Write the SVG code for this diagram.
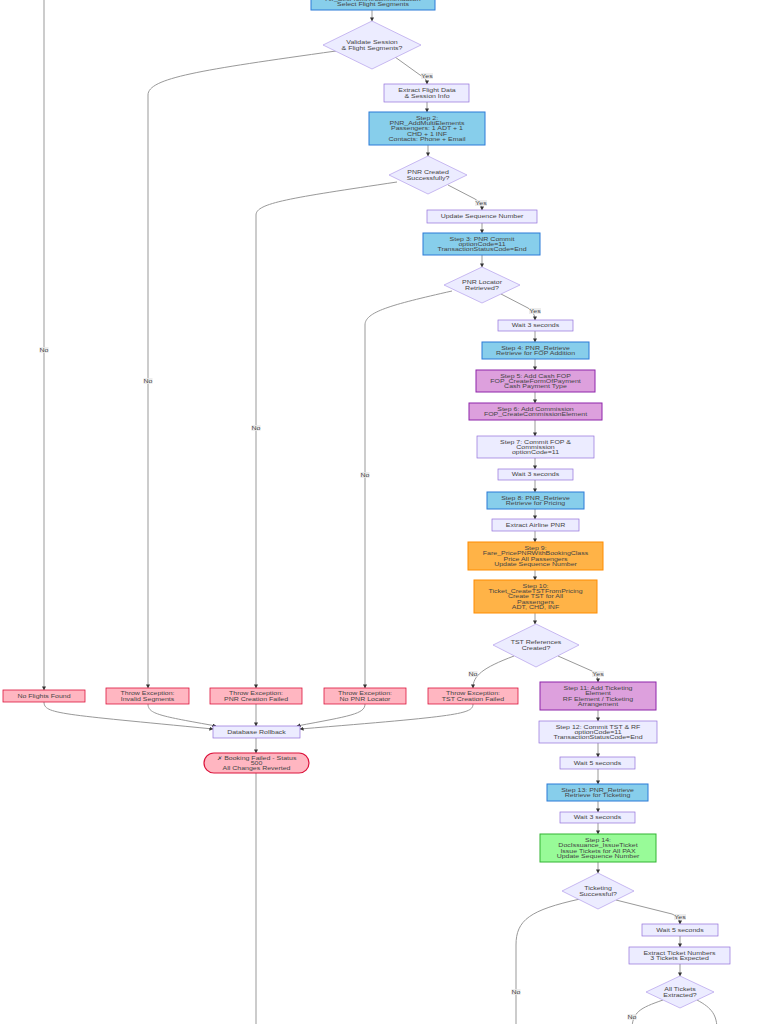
<svg xmlns="http://www.w3.org/2000/svg" width="768" height="1024" viewBox="0 0 768 1024">
<defs>
<marker id="arr" viewBox="0 0 10 10" refX="9" refY="5" markerWidth="4" markerHeight="4" orient="auto-start-reverse" markerUnits="userSpaceOnUse"><path d="M0,0 L10,5 L0,10 z" fill="#333"/></marker>
<style>
.t{font-family:"Liberation Sans",Arial,sans-serif;font-size:7px;fill:#444;text-anchor:middle}
.e{fill:none;stroke:#999;stroke-width:1;marker-end:url(#arr)}
.eb{fill:none;stroke:#999;stroke-width:1}
.blue{fill:#87CEEB;stroke:#2B7BD8;stroke-width:1}
.lav{fill:#ECECFF;stroke:#9370DB;stroke-width:0.7}
.dia{fill:#ECECFF;stroke:#B39DEB;stroke-width:0.7}
.orc{fill:#DDA0DD;stroke:#8E24AA;stroke-width:1}
.org{fill:#FFB347;stroke:#FF8C00;stroke-width:1}
.pnk{fill:#FFB6C1;stroke:#DC143C;stroke-width:0.8}
.grn{fill:#98FB98;stroke:#32B432;stroke-width:1}
.lb{fill:#e8e8e8;opacity:0.8}
</style>
</defs>
<rect width="768" height="1024" fill="#fff"/>
<g id="connectors">
<path class="e" d="M44,-5 L44,690"/>
<path class="e" d="M372,10 L372,21"/>
<path class="e" d="M395,57 L420,75 Q427,78 427,84"/>
<path class="e" d="M336,51 C200,70 148,78 148,95 L148,688"/>
<path class="e" d="M427,102 L427,112"/>
<path class="e" d="M428,145 L428,156"/>
<path class="e" d="M448,185 L475,199 Q482,203 482,210"/>
<path class="e" d="M397,182 C290,198 256,203 256,215 L256,688"/>
<path class="e" d="M482,223 L482,233"/>
<path class="e" d="M482,255 L482,267"/>
<path class="e" d="M501,294 L528,308 Q535,312 535,320"/>
<path class="e" d="M452,291 C390,305 365,312 365,325 L365,688"/>
<path class="e" d="M535,331 L535,342"/>
<path class="e" d="M535,359 L535,370"/>
<path class="e" d="M535,392 L535,403"/>
<path class="e" d="M535,420 L535,436"/>
<path class="e" d="M535,458 L535,469"/>
<path class="e" d="M535,480 L535,492"/>
<path class="e" d="M535,509 L535,519"/>
<path class="e" d="M535,531 L535,542"/>
<path class="e" d="M535,570 L535,580"/>
<path class="e" d="M535,613 L535,624"/>
<path class="e" d="M514,656 C482,668 473,676 473,688"/>
<path class="e" d="M558,656 L592,671 Q598,674 598,682"/>
<path class="e" d="M598,710 L598,721"/>
<path class="e" d="M598,743 L598,757"/>
<path class="e" d="M598,769 L598,784"/>
<path class="e" d="M598,801 L598,812"/>
<path class="e" d="M598,823 L598,834"/>
<path class="e" d="M598,862 L598,873"/>
<path class="e" d="M616,900 L672,914 Q680,917 680,924"/>
<path class="eb" d="M580,899 C530,910 516,920 516,945 L516,1030"/>
<path class="e" d="M680,936 L680,947"/>
<path class="e" d="M680,964 L680,976"/>
<path class="eb" d="M663,1000 C640,1008 632,1012 632,1030"/>
<path class="eb" d="M697,1000 C712,1008 717,1015 717,1030"/>
<path class="e" d="M44,702 C44,714 60,714 213,729"/>
<path class="e" d="M148,704 C148,714 160,716 216,726"/>
<path class="e" d="M256,704 L256,726"/>
<path class="e" d="M365,704 C365,714 350,716 297,726"/>
<path class="e" d="M473,704 C473,714 460,716 300,729"/>
<path class="e" d="M256,738 L256,753"/>
<path class="eb" d="M256,773 L256,1030"/>
</g>
<g id="edge-labels">
<rect class="lb" x="421" y="73" width="12" height="6"/><text class="t" transform="translate(427,76) scale(1,0.76)"><tspan x="0" y="2.5">Yes</tspan></text>
<rect class="lb" x="475" y="200" width="12" height="6"/><text class="t" transform="translate(481,203) scale(1,0.76)"><tspan x="0" y="2.5">Yes</tspan></text>
<rect class="lb" x="529" y="308" width="12" height="6"/><text class="t" transform="translate(535,311) scale(1,0.76)"><tspan x="0" y="2.5">Yes</tspan></text>
<rect class="lb" x="592" y="671" width="12" height="6"/><text class="t" transform="translate(598,674) scale(1,0.76)"><tspan x="0" y="2.5">Yes</tspan></text>
<rect class="lb" x="674" y="914" width="12" height="6"/><text class="t" transform="translate(680,917) scale(1,0.76)"><tspan x="0" y="2.5">Yes</tspan></text>
<rect class="lb" x="39.5" y="347" width="9" height="6"/><text class="t" transform="translate(44,350) scale(1,0.76)"><tspan x="0" y="2.5">No</tspan></text>
<rect class="lb" x="143.5" y="378" width="9" height="6"/><text class="t" transform="translate(148,381) scale(1,0.76)"><tspan x="0" y="2.5">No</tspan></text>
<rect class="lb" x="251.5" y="425" width="9" height="6"/><text class="t" transform="translate(256,428) scale(1,0.76)"><tspan x="0" y="2.5">No</tspan></text>
<rect class="lb" x="360.5" y="472" width="9" height="6"/><text class="t" transform="translate(365,475) scale(1,0.76)"><tspan x="0" y="2.5">No</tspan></text>
<rect class="lb" x="468.5" y="671" width="9" height="6"/><text class="t" transform="translate(473,674) scale(1,0.76)"><tspan x="0" y="2.5">No</tspan></text>
<rect class="lb" x="511.5" y="989" width="9" height="6"/><text class="t" transform="translate(516,992) scale(1,0.76)"><tspan x="0" y="2.5">No</tspan></text>
<rect class="lb" x="627.5" y="1014" width="9" height="6"/><text class="t" transform="translate(632,1017) scale(1,0.76)"><tspan x="0" y="2.5">No</tspan></text>
</g>
<g id="step1"><rect class="blue" x="311" y="-20" width="124" height="30"/><text class="t" transform="translate(373,4) scale(1,0.76)"><tspan x="0" y="-4.5">Air_SellFromRecommendation</tspan><tspan x="0" y="2.5">Select Flight Segments</tspan></text></g>
<g id="validate"><polygon class="dia" points="372,21 421,45 372,69 323,45"/><text class="t" transform="translate(372,45) scale(1,0.76)"><tspan x="0" y="-1">Validate Session</tspan><tspan x="0" y="6">&amp; Flight Segments?</tspan></text></g>
<g id="extractFlight"><rect class="lav" x="384" y="84" width="85" height="18"/><text class="t" transform="translate(427,93) scale(1,0.76)"><tspan x="0" y="-1">Extract Flight Data</tspan><tspan x="0" y="6">&amp; Session Info</tspan></text></g>
<g id="step2"><rect class="blue" x="369" y="112" width="116" height="33"/><text class="t" transform="translate(427,128.5) scale(1,0.76)"><tspan x="0" y="-11.5">Step 2:</tspan><tspan x="0" y="-4.5">PNR_AddMultiElements</tspan><tspan x="0" y="2.5">Passengers: 1 ADT + 1</tspan><tspan x="0" y="9.5">CHD + 1 INF</tspan><tspan x="0" y="16.5">Contacts: Phone + Email</tspan></text></g>
<g id="pnrCreated"><polygon class="dia" points="428,156 467,175 428,194 389,175"/><text class="t" transform="translate(428,175) scale(1,0.76)"><tspan x="0" y="-1">PNR Created</tspan><tspan x="0" y="6">Successfully?</tspan></text></g>
<g id="updSeq"><rect class="lav" x="427" y="210" width="110" height="13"/><text class="t" transform="translate(482,216.5) scale(1,0.76)"><tspan x="0" y="2.5">Update Sequence Number</tspan></text></g>
<g id="step3"><rect class="blue" x="423" y="233" width="117" height="22"/><text class="t" transform="translate(482,244) scale(1,0.76)"><tspan x="0" y="-4.5">Step 3: PNR Commit</tspan><tspan x="0" y="2.5">optionCode=11</tspan><tspan x="0" y="9.5">TransactionStatusCode=End</tspan></text></g>
<g id="locator"><polygon class="dia" points="482,267 520,285 482,303 444,285"/><text class="t" transform="translate(482,285) scale(1,0.76)"><tspan x="0" y="-1">PNR Locator</tspan><tspan x="0" y="6">Retrieved?</tspan></text></g>
<g id="wait1"><rect class="lav" x="498" y="320" width="75" height="11"/><text class="t" transform="translate(535.5,325.5) scale(1,0.76)"><tspan x="0" y="2.5">Wait 3 seconds</tspan></text></g>
<g id="step4"><rect class="blue" x="482" y="342" width="107" height="17"/><text class="t" transform="translate(535.5,350.5) scale(1,0.76)"><tspan x="0" y="-1">Step 4: PNR_Retrieve</tspan><tspan x="0" y="6">Retrieve for FOP Addition</tspan></text></g>
<g id="step5"><rect class="orc" x="476" y="370" width="119" height="22"/><text class="t" transform="translate(535.5,381) scale(1,0.76)"><tspan x="0" y="-4.5">Step 5: Add Cash FOP</tspan><tspan x="0" y="2.5">FOP_CreateFormOfPayment</tspan><tspan x="0" y="9.5">Cash Payment Type</tspan></text></g>
<g id="step6"><rect class="orc" x="469" y="403" width="133" height="17"/><text class="t" transform="translate(535.5,411.5) scale(1,0.76)"><tspan x="0" y="-1">Step 6: Add Commission</tspan><tspan x="0" y="6">FOP_CreateCommissionElement</tspan></text></g>
<g id="step7"><rect class="lav" x="477" y="436" width="117" height="22"/><text class="t" transform="translate(535.5,447) scale(1,0.76)"><tspan x="0" y="-4.5">Step 7: Commit FOP &amp;</tspan><tspan x="0" y="2.5">Commission</tspan><tspan x="0" y="9.5">optionCode=11</tspan></text></g>
<g id="wait2"><rect class="lav" x="498" y="469" width="75" height="11"/><text class="t" transform="translate(535.5,474.5) scale(1,0.76)"><tspan x="0" y="2.5">Wait 3 seconds</tspan></text></g>
<g id="step8"><rect class="blue" x="487" y="492" width="97" height="17"/><text class="t" transform="translate(535.5,500.5) scale(1,0.76)"><tspan x="0" y="-1">Step 8: PNR_Retrieve</tspan><tspan x="0" y="6">Retrieve for Pricing</tspan></text></g>
<g id="extractPNR"><rect class="lav" x="492" y="519" width="87" height="12"/><text class="t" transform="translate(535.5,525) scale(1,0.76)"><tspan x="0" y="2.5">Extract Airline PNR</tspan></text></g>
<g id="step9"><rect class="org" x="468" y="542" width="135" height="28"/><text class="t" transform="translate(535.5,556) scale(1,0.76)"><tspan x="0" y="-8">Step 9:</tspan><tspan x="0" y="-1">Fare_PricePNRWithBookingClass</tspan><tspan x="0" y="6">Price All Passengers</tspan><tspan x="0" y="13">Update Sequence Number</tspan></text></g>
<g id="step10"><rect class="org" x="474" y="580" width="123" height="33"/><text class="t" transform="translate(535.5,596.5) scale(1,0.76)"><tspan x="0" y="-11.5">Step 10:</tspan><tspan x="0" y="-4.5">Ticket_CreateTSTFromPricing</tspan><tspan x="0" y="2.5">Create TST for All</tspan><tspan x="0" y="9.5">Passengers</tspan><tspan x="0" y="16.5">ADT, CHD, INF</tspan></text></g>
<g id="tstRefs"><polygon class="dia" points="536,624 579,645 536,667 493,645"/><text class="t" transform="translate(536,645) scale(1,0.76)"><tspan x="0" y="-1">TST References</tspan><tspan x="0" y="6">Created?</tspan></text></g>
<g id="step11"><rect class="orc" x="540" y="682" width="116" height="28"/><text class="t" transform="translate(598,696) scale(1,0.76)"><tspan x="0" y="-8">Step 11: Add Ticketing</tspan><tspan x="0" y="-1">Element</tspan><tspan x="0" y="6">RF Element / Ticketing</tspan><tspan x="0" y="13">Arrangement</tspan></text></g>
<g id="step12"><rect class="lav" x="539" y="721" width="118" height="22"/><text class="t" transform="translate(598,732) scale(1,0.76)"><tspan x="0" y="-4.5">Step 12: Commit TST &amp; RF</tspan><tspan x="0" y="2.5">optionCode=11</tspan><tspan x="0" y="9.5">TransactionStatusCode=End</tspan></text></g>
<g id="wait5a"><rect class="lav" x="560" y="757" width="75" height="12"/><text class="t" transform="translate(597.5,763) scale(1,0.76)"><tspan x="0" y="2.5">Wait 5 seconds</tspan></text></g>
<g id="step13"><rect class="blue" x="547" y="784" width="101" height="17"/><text class="t" transform="translate(597.5,792.5) scale(1,0.76)"><tspan x="0" y="-1">Step 13: PNR_Retrieve</tspan><tspan x="0" y="6">Retrieve for Ticketing</tspan></text></g>
<g id="wait3c"><rect class="lav" x="560" y="812" width="75" height="11"/><text class="t" transform="translate(597.5,817.5) scale(1,0.76)"><tspan x="0" y="2.5">Wait 3 seconds</tspan></text></g>
<g id="step14"><rect class="grn" x="540" y="834" width="116" height="28"/><text class="t" transform="translate(598,848) scale(1,0.76)"><tspan x="0" y="-8">Step 14:</tspan><tspan x="0" y="-1">DocIssuance_IssueTicket</tspan><tspan x="0" y="6">Issue Tickets for All PAX</tspan><tspan x="0" y="13">Update Sequence Number</tspan></text></g>
<g id="ticketingOk"><polygon class="dia" points="598,873 634,891 598,909 562,891"/><text class="t" transform="translate(598,891) scale(1,0.76)"><tspan x="0" y="-1">Ticketing</tspan><tspan x="0" y="6">Successful?</tspan></text></g>
<g id="wait5b"><rect class="lav" x="642" y="924" width="76" height="12"/><text class="t" transform="translate(680,930) scale(1,0.76)"><tspan x="0" y="2.5">Wait 5 seconds</tspan></text></g>
<g id="extractTickets"><rect class="lav" x="629" y="947" width="101" height="17"/><text class="t" transform="translate(679.5,955.5) scale(1,0.76)"><tspan x="0" y="-1">Extract Ticket Numbers</tspan><tspan x="0" y="6">3 Tickets Expected</tspan></text></g>
<g id="allTickets"><polygon class="dia" points="680,976 714,992 680,1008 646,992"/><text class="t" transform="translate(680,992) scale(1,0.76)"><tspan x="0" y="-1">All Tickets</tspan><tspan x="0" y="6">Extracted?</tspan></text></g>
<g id="noFlights"><rect class="pnk" x="3" y="690" width="82" height="12"/><text class="t" transform="translate(44,696) scale(1,0.76)"><tspan x="0" y="2.5">No Flights Found</tspan></text></g>
<g id="invalidSeg"><rect class="pnk" x="106" y="688" width="83" height="16"/><text class="t" transform="translate(147.5,696) scale(1,0.76)"><tspan x="0" y="-1">Throw Exception:</tspan><tspan x="0" y="6">Invalid Segments</tspan></text></g>
<g id="pnrFail"><rect class="pnk" x="210" y="688" width="92" height="16"/><text class="t" transform="translate(256,696) scale(1,0.76)"><tspan x="0" y="-1">Throw Exception:</tspan><tspan x="0" y="6">PNR Creation Failed</tspan></text></g>
<g id="noLocator"><rect class="pnk" x="324" y="688" width="82" height="16"/><text class="t" transform="translate(365,696) scale(1,0.76)"><tspan x="0" y="-1">Throw Exception:</tspan><tspan x="0" y="6">No PNR Locator</tspan></text></g>
<g id="tstFail"><rect class="pnk" x="428" y="688" width="90" height="16"/><text class="t" transform="translate(473,696) scale(1,0.76)"><tspan x="0" y="-1">Throw Exception:</tspan><tspan x="0" y="6">TST Creation Failed</tspan></text></g>
<g id="rollback"><rect class="lav" x="213" y="726" width="87" height="12"/><text class="t" transform="translate(256.5,732) scale(1,0.76)"><tspan x="0" y="2.5">Database Rollback</tspan></text></g>
<g id="bookingFailed"><rect class="pnk" x="204" y="753" width="105" height="20" rx="10" ry="10" style="stroke-width:1.2"/><text class="t" transform="translate(256.5,763) scale(1,0.76)"><tspan x="0" y="-4.5">✗ Booking Failed - Status</tspan><tspan x="0" y="2.5">500</tspan><tspan x="0" y="9.5">All Changes Reverted</tspan></text></g>
</svg>
